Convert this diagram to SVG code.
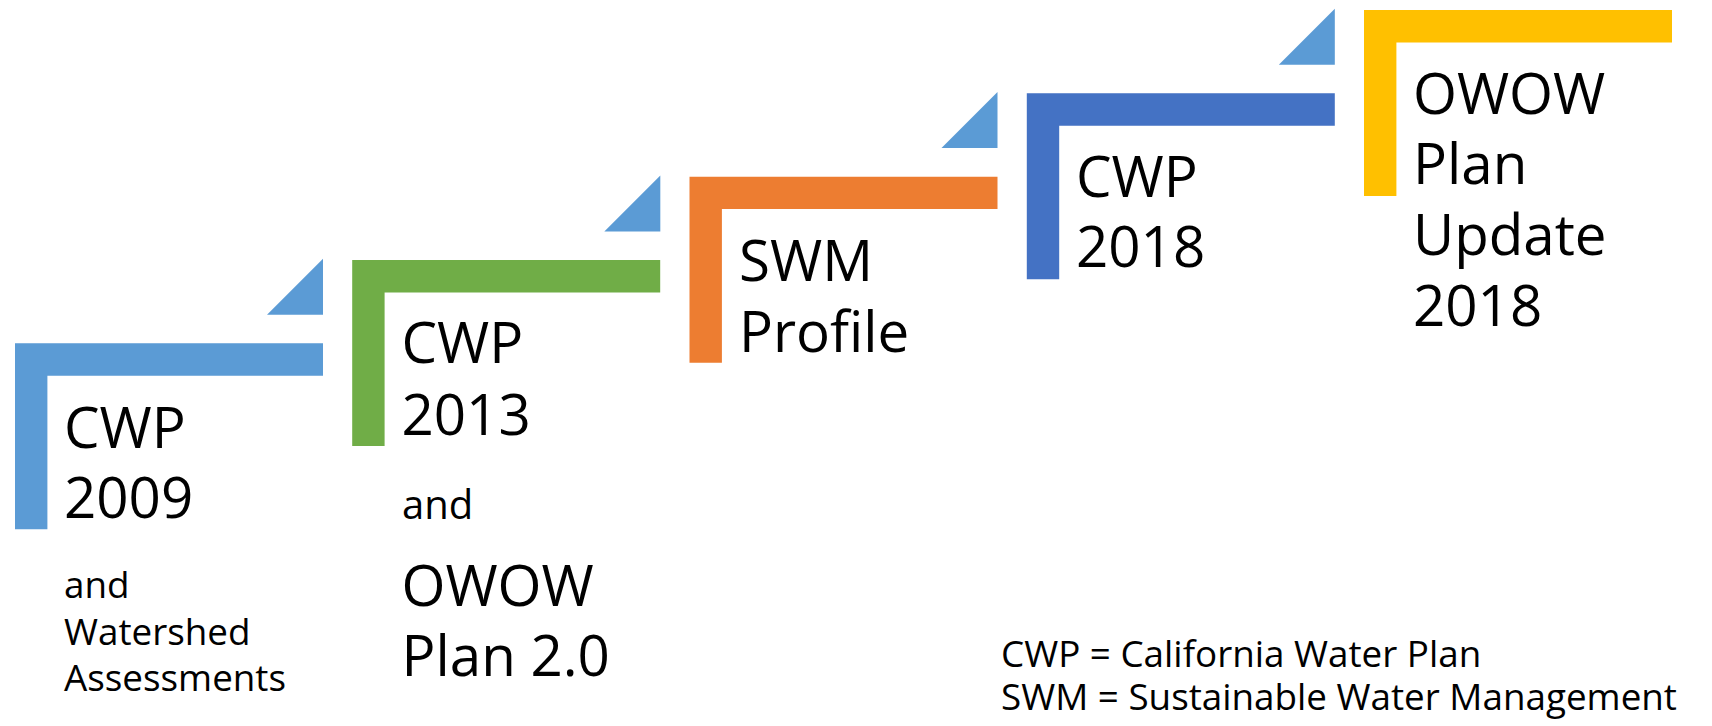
<svg xmlns="http://www.w3.org/2000/svg" width="1712" height="726" viewBox="0 0 1712 726">
<style>
text{font-family:"Open Sans","Noto Sans","Liberation Sans",sans-serif;fill:#000}
.big{font-size:56.5px}
.sm{font-size:36.8px}
.and2{font-size:40px}
.leg{font-size:36.8px}
.tri{fill:#5B9BD5}
</style>
<defs>
<path id="L" d="M0,0 H308 V32.4 H32.4 V186 H0 Z"/>
<path id="T" d="M-56,0 L0,-56 L0,0 Z"/>
</defs>
<g id="connectors">
<use href="#T" class="tri" x="323" y="314.7"/>
<use href="#T" class="tri" x="660.3" y="231.4"/>
<use href="#T" class="tri" x="997.5" y="148"/>
<use href="#T" class="tri" x="1334.8" y="64.7"/>
</g>
<g id="step1">
<use href="#L" x="15" y="343.3" fill="#5B9BD5"/>
<text class="big" x="64" y="447.7">CWP</text>
<text class="big" x="64" y="518.3">2009</text>
<text class="sm" x="64" y="598.3">and</text>
<text class="sm" x="64" y="645">Watershed</text>
<text class="sm" x="64" y="690.7">Assessments</text>
</g>
<g id="step2">
<use href="#L" x="352.2" y="260" fill="#70AD47"/>
<text class="big" x="401.5" y="362.5">CWP</text>
<text class="big" x="401.5" y="434.5">2013</text>
<text class="and2" x="402" y="519">and</text>
<text class="big" x="401.5" y="605.7">OWOW</text>
<text class="big" x="401.5" y="675.7">Plan 2.0</text>
</g>
<g id="step3">
<use href="#L" x="689.5" y="176.7" fill="#ED7D31"/>
<text class="big" x="739" y="281">SWM</text>
<text class="big" x="739" y="351.5">Profile</text>
</g>
<g id="step4">
<use href="#L" x="1026.8" y="93.3" fill="#4472C4"/>
<text class="big" x="1076" y="196.7">CWP</text>
<text class="big" x="1076" y="266.5">2018</text>
</g>
<g id="step5">
<use href="#L" x="1364" y="10" fill="#FFC000"/>
<text class="big" x="1413" y="114">OWOW</text>
<text class="big" x="1413" y="184.3">Plan</text>
<text class="big" x="1413" y="255">Update</text>
<text class="big" x="1413" y="325.5">2018</text>
</g>
<g id="legend">
<text class="leg" x="1001" y="667">CWP = California Water Plan</text>
<text class="leg" x="1001" y="710">SWM = Sustainable Water Management</text>
</g>
</svg>
